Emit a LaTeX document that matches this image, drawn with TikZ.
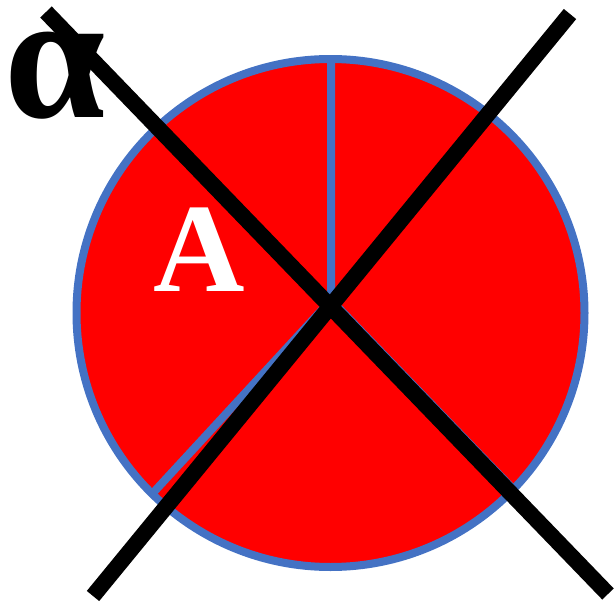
\documentclass[tikz,border=0pt]{standalone}
\usepackage{fontspec}
\setmainfont{Liberation Serif}
\usetikzlibrary{positioning}
\definecolor{palet1}{HTML}{FF0000}
\definecolor{palet2}{HTML}{4472C4}
\colorlet{cpie}{palet1}
\colorlet{cedge}{palet2}
\colorlet{ccross}{black}

\begin{document}
\begin{tikzpicture}[x=0.75pt,y=-0.75pt]
  \useasboundingbox (0,0) rectangle (615,603);
  % pie with three slices
  \coordinate (mid) at (330.5,313);
  \coordinate (tip) at (331,300);
  \coordinate (top) at (331,59);
  \coordinate (lowleft) at (152,494);
  \coordinate (lowright) at (514,490);
  \fill[cpie] (mid) circle[radius=254];
  \draw[cedge, line width=6pt] (top) -- (tip) -- (lowleft) (tip) -- (lowright);
  \draw[cedge, line width=6pt] (mid) circle[radius=254];
  \path
  (55,76) node[inner sep=0, font=\bfseries\fontsize{136}{136}\selectfont] (alpha) {α}
  (199,250) node[inner sep=0, text=white, font=\bfseries\fontsize{95}{95}\selectfont] (slice) {A}
  ;
  % the cross
  \coordinate (c1a) at (46,12);
  \coordinate (c1b) at (608,594);
  \coordinate (c2a) at (570,14);
  \coordinate (c2b) at (93,596);
  \draw[ccross, line width=12pt] (c1a) -- (c1b);
  \draw[ccross, line width=12pt] (c2a) -- (c2b);
\end{tikzpicture}
\end{document}
